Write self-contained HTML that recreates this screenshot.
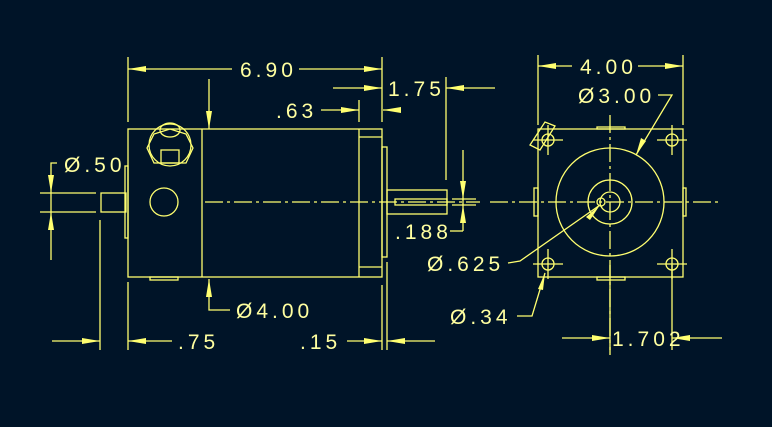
<!DOCTYPE html>
<html><head><meta charset="utf-8"><style>
html,body{margin:0;padding:0;background:#001428;}
svg{display:block}
text{font-family:"Liberation Sans",sans-serif;font-size:21px;fill:#ffffa0;letter-spacing:4px}
</style></head><body>
<svg width="772" height="427" viewBox="0 0 772 427" xmlns="http://www.w3.org/2000/svg">
<rect width="772" height="427" fill="#001428"/>
<g stroke="#ffff70" stroke-width="1.3" fill="none">
<rect x="128" y="129" width="254" height="148"/>
<line x1="202" y1="129" x2="202" y2="277"/>
<line x1="359" y1="129" x2="359" y2="277"/>
<line x1="359" y1="137" x2="382" y2="137"/>
<line x1="359" y1="267" x2="382" y2="267"/>
<rect x="382" y="147" width="5" height="110"/>
<rect x="125" y="166" width="3" height="72"/>
<rect x="101" y="193" width="25" height="19"/>
<rect x="150" y="277" width="28" height="3"/>
<circle cx="170" cy="145" r="21"/>
<polygon points="147,148 154,134 170,129 186,134 193,148 186,163 154,163"/>
<rect x="161" y="150" width="18" height="13"/>
<ellipse cx="170" cy="130" rx="10" ry="7"/>
<circle cx="164" cy="202" r="14"/>
<rect x="387" y="190" width="60" height="24"/>
<rect x="395" y="199" width="52" height="6"/>
<line x1="205" y1="202" x2="480" y2="202" stroke-dasharray="18,4,3,4"/>
<line x1="490" y1="202" x2="718" y2="202" stroke-dasharray="18,4,3,4"/>
<line x1="610" y1="115" x2="610" y2="355" stroke-dasharray="18,4,3,4"/>
<line x1="128" y1="57" x2="128" y2="122"/>
<line x1="382" y1="57" x2="382" y2="122"/>
<line x1="128" y1="69" x2="232" y2="69"/>
<line x1="299" y1="69" x2="382" y2="69"/>
<line x1="333" y1="88" x2="382" y2="88"/>
<line x1="446" y1="77" x2="446" y2="180"/>
<line x1="446" y1="88" x2="495" y2="88"/>
<line x1="321" y1="110" x2="359" y2="110"/>
<line x1="359" y1="100" x2="359" y2="122"/>
<line x1="383" y1="110" x2="400" y2="110"/>
<line x1="209" y1="79" x2="209" y2="129"/>
<line x1="40" y1="193" x2="96" y2="193"/>
<line x1="40" y1="212" x2="96" y2="212"/>
<polyline points="51,260 51,163 57,163"/>
<polyline points="209,279 209,310 230,310"/>
<line x1="100" y1="220" x2="100" y2="350"/>
<line x1="128" y1="282" x2="128" y2="350"/>
<line x1="382" y1="285" x2="382" y2="350"/>
<line x1="387" y1="262" x2="387" y2="350"/>
<line x1="52" y1="341" x2="100" y2="341"/>
<line x1="128" y1="341" x2="172" y2="341"/>
<line x1="347" y1="341" x2="382" y2="341"/>
<line x1="387" y1="341" x2="435" y2="341"/>
<line x1="463" y1="150" x2="463" y2="231"/>
<line x1="452" y1="199" x2="476" y2="199"/>
<line x1="452" y1="205" x2="476" y2="205"/>
<line x1="450" y1="231" x2="463" y2="231"/>
<rect x="538" y="129" width="145" height="148"/>
<rect x="597" y="127" width="28" height="2"/>
<rect x="597" y="277" width="28" height="3"/>
<rect x="534" y="188" width="4" height="28"/>
<rect x="683" y="188" width="3" height="28"/>
<circle cx="610" cy="202" r="54"/>
<circle cx="610" cy="202" r="22"/>
<circle cx="610" cy="202" r="10"/>
<circle cx="601" cy="202" r="4"/>
<circle cx="548" cy="140" r="6"/><line x1="533" y1="140" x2="563" y2="140"/><line x1="548" y1="125" x2="548" y2="155"/>
<circle cx="672" cy="140" r="6"/><line x1="657" y1="140" x2="687" y2="140"/><line x1="672" y1="125" x2="672" y2="155"/>
<circle cx="548" cy="264" r="6"/><line x1="533" y1="264" x2="563" y2="264"/><line x1="548" y1="249" x2="548" y2="279"/>
<circle cx="672" cy="264" r="6"/><line x1="657" y1="264" x2="687" y2="264"/><line x1="672" y1="249" x2="672" y2="279"/>
<path d="M530,145 L545,122 L555,126 L540,150 Z"/>
<line x1="538" y1="55" x2="538" y2="125"/>
<line x1="683" y1="55" x2="683" y2="125"/>
<line x1="538" y1="66" x2="572" y2="66"/>
<line x1="638" y1="66" x2="683" y2="66"/>
<polyline points="658,95 672,95 636,155"/>
<polyline points="508,263 520,261 600,205"/>
<polyline points="517,316 532,316 545,273"/>
<line x1="610" y1="265" x2="610" y2="350"/>
<line x1="672" y1="265" x2="672" y2="350"/>
<line x1="562" y1="338" x2="610" y2="338"/>
<line x1="672" y1="338" x2="722" y2="338"/>
</g>
<g fill="#ffff70" stroke="none">
<polygon points="128,69 146,66 146,72"/>
<polygon points="382,69 364,66 364,72"/>
<polygon points="382,88 364,85 364,91"/>
<polygon points="446,88 464,85 464,91"/>
<polygon points="359,110 341,107 341,113"/>
<polygon points="383,110 401,107 401,113"/>
<polygon points="209,129 206,111 212,111"/>
<polygon points="209,279 206,297 212,297"/>
<polygon points="51,193 48,175 54,175"/>
<polygon points="51,212 48,230 54,230"/>
<polygon points="100,341 82,338 82,344"/>
<polygon points="128,341 146,338 146,344"/>
<polygon points="382,341 364,338 364,344"/>
<polygon points="387,341 405,338 405,344"/>
<polygon points="463,199 460,181 466,181"/>
<polygon points="463,205 460,223 466,223"/>
<polygon points="538,66 556,63 556,69"/>
<polygon points="683,66 665,63 665,69"/>
<polygon points="610,338 592,335 592,341"/>
<polygon points="672,338 690,335 690,341"/>
<polygon points="636,155 641,138 646,141"/>
<polygon points="600,205 586,217 590,220"/>
<polygon points="545,273 538,289 543,290"/>
</g>
<text x="240" y="77">6.90</text>
<text x="388" y="96">1.75</text>
<text x="276" y="118">.63</text>
<text x="64" y="172">Ø.50</text>
<text x="395" y="239">.188</text>
<text x="236" y="318">Ø4.00</text>
<text x="178" y="349">.75</text>
<text x="300" y="349">.15</text>
<text x="580" y="74">4.00</text>
<text x="578" y="103">Ø3.00</text>
<text x="427" y="271">Ø.625</text>
<text x="450" y="324">Ø.34</text>
<text x="612" y="346">1.702</text>
</svg>
</body></html>
